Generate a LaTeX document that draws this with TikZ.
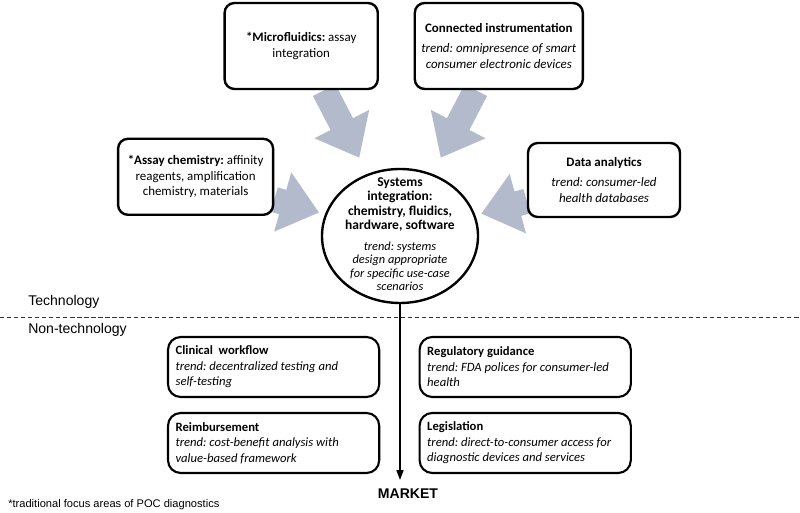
\documentclass[tikz,border=0pt]{standalone}
\usepackage{fontspec}
\setmainfont{Carlito}
\newfontfamily\arialfont{Liberation Sans}
\usetikzlibrary{shapes.geometric,arrows.meta,backgrounds}
\definecolor{arrowgray}{RGB}{179,186,204}
\frenchspacing

\begin{document}
\begin{tikzpicture}[
  techbox/.style={draw, line width=1.7pt, rounded corners=7pt, fill=white, align=center, font=\fontsize{9.2}{11}\selectfont},
  nontechbox/.style={draw, line width=1.5pt, rounded corners=9pt, fill=white, align=flush left, text width=4.9cm, inner xsep=0.19cm, minimum height=1.5cm, font=\fontsize{9}{11}\selectfont},
  fatarrow/.style={draw=arrowgray, fill=arrowgray, line width=18pt, -{Triangle[length=27pt,width=42pt]}},
  sidetext/.style={anchor=west, inner sep=0, font=\arialfont\fontsize{10}{12}\selectfont}
]
\useasboundingbox (0,0) rectangle (20,-12.825);
\node[techbox, minimum width=3.83cm, minimum height=2.15cm] (micro) at (7.53,-1.15) {\textbf{*Microfluidics:} assay\\integration};
\node[techbox, minimum width=4.2cm, minimum height=2.15cm] (conn) at (12.47,-1.15) {\textbf{Connected instrumentation}\\[3pt]\textit{trend: omnipresence of smart}\\\textit{consumer electronic devices}};
\node[techbox, minimum width=3.875cm, minimum height=1.9cm] (assay) at (4.89,-4.42) {\textbf{*Assay chemistry:} affinity\\reagents, amplification\\chemistry, materials};
\node[techbox, minimum width=3.8cm, minimum height=1.85cm] (data) at (15.1,-4.5) {\textbf{Data analytics}\\[3pt]\textit{trend: consumer-led}\\\textit{health databases}};
\node[ellipse, draw, line width=1.7pt, fill=white, minimum width=3.9cm, minimum height=3.35cm] (sys) at (10,-5.9) {};
\node[text width=3.5cm, align=flush center, inner sep=0] (systext) at (10,-5.85) {\fontsize{9.6}{10.3}\selectfont\bfseries Systems\\integration:\\chemistry, fluidics,\\hardware, software\par\vspace{5pt}\fontsize{8.8}{9.6}\selectfont\mdseries\itshape trend: systems\\design appropriate\\for specific use-case\\scenarios\par};
\begin{pgfonlayer}{background}
\draw[fatarrow, shorten >=0.45cm] (micro) -- (sys);
\draw[fatarrow, shorten >=0.45cm] (conn) -- (sys);
\draw[fatarrow, shorten >=0.15cm] (assay) -- (sys);
\draw[fatarrow, shorten >=0.15cm] (data) -- (sys);
\end{pgfonlayer}
\node[sidetext] (tech) at (0.7,-7.55) {Technology};
\node[sidetext] (nontech) at (0.7,-8.25) {Non-technology};
\draw[dash pattern=on 3pt off 2pt, line width=0.7pt, black!80] (0,-7.925) -- (20,-7.925);
\node[nontechbox, minimum width=5.28cm] (clinical) at (6.84,-9.175) {\textbf{Clinical~ workflow}\\\textit{trend: decentralized testing and}\\\textit{self-testing}};
\node[nontechbox, minimum width=5.28cm] (regul) at (13.13,-9.175) {\textbf{Regulatory guidance}\\\textit{trend: FDA polices for consumer-led}\\\textit{health}};
\node[nontechbox, minimum width=5.28cm] (reimb) at (6.84,-11.075) {\textbf{Reimbursement}\\\textit{trend: cost-benefit analysis with}\\\textit{value-based framework}};
\node[nontechbox, minimum width=5.28cm] (legis) at (13.13,-11.075) {\textbf{Legislation}\\\textit{trend: direct-to-consumer access for}\\\textit{diagnostic devices and services}};
\coordinate (mkt) at (10,-12.0);
\draw[line width=1pt, -{Triangle[length=7pt,width=5pt]}] (sys.south) -- (mkt);
\node[font=\arialfont\bfseries\fontsize{10}{12}\selectfont] (market) at (10.2,-12.35) {MARKET};
\node[sidetext, font=\arialfont\fontsize{7.9}{9}\selectfont] (note) at (0.2,-12.625) {*traditional focus areas of POC diagnostics};
\end{tikzpicture}
\end{document}
